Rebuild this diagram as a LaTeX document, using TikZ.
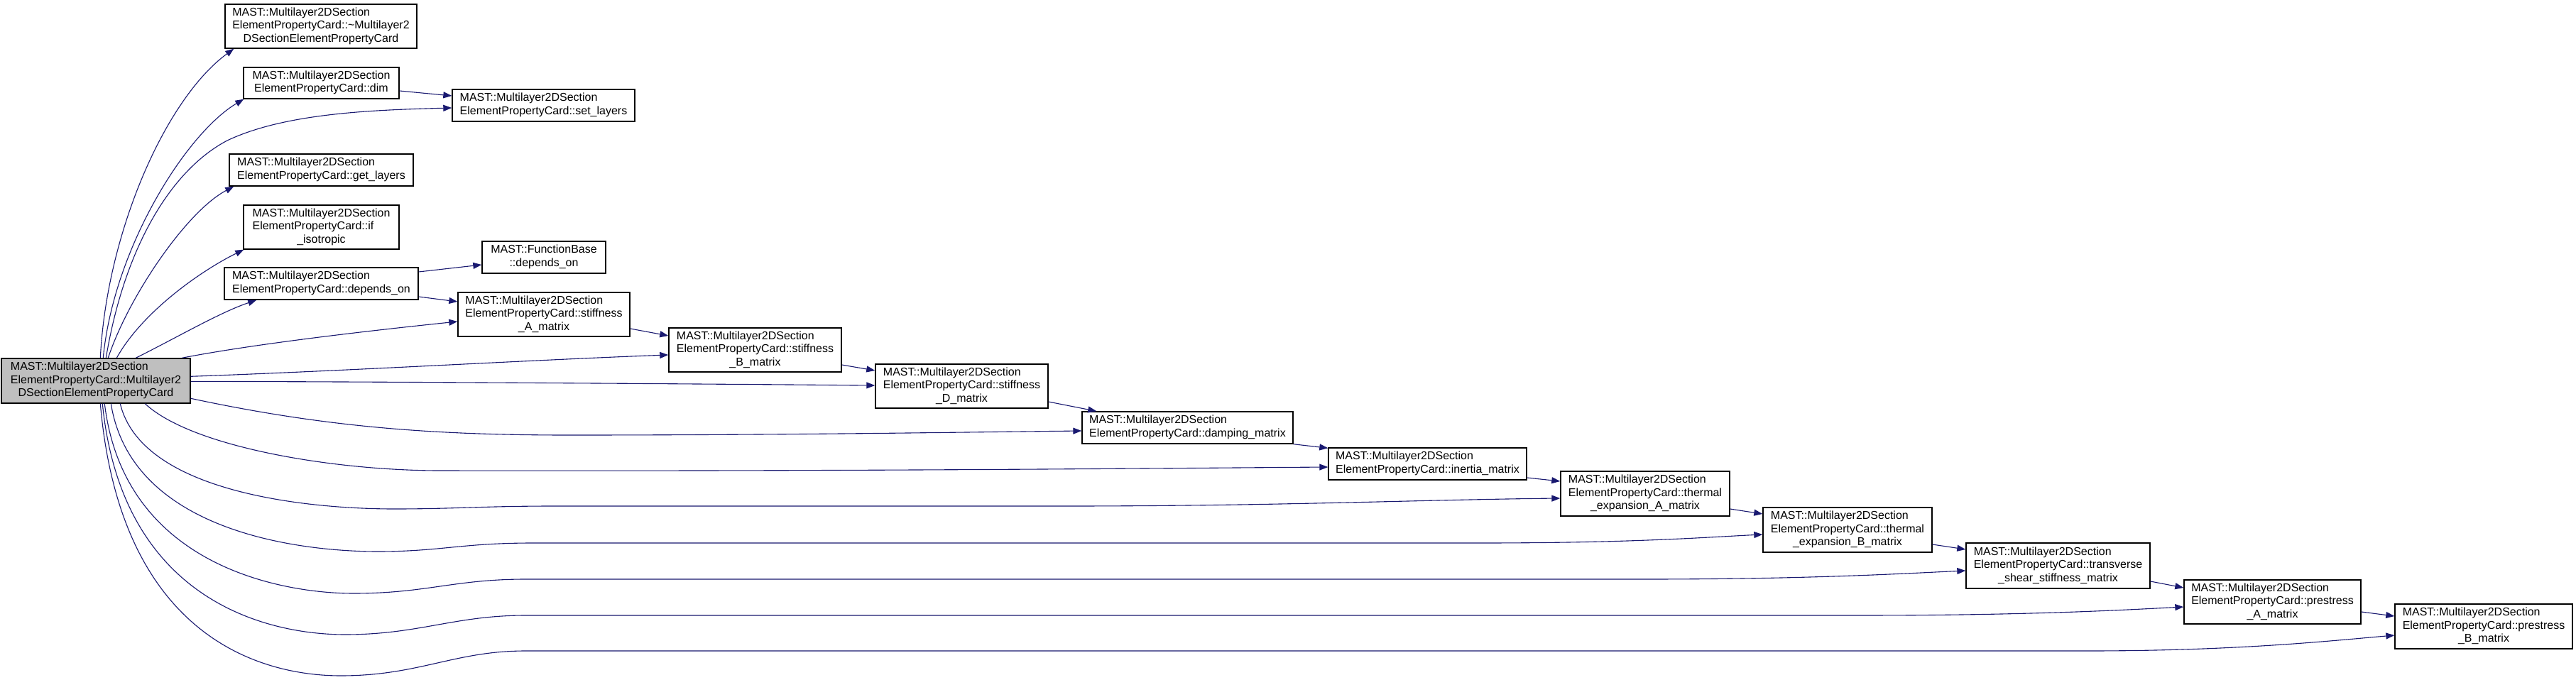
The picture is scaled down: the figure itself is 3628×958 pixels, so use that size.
\documentclass[tikz,border=0pt]{standalone}
\usepackage{fontspec}
\setmainfont{Liberation Sans}
\usetikzlibrary{arrows.meta,calc}
\definecolor{edgeblue}{HTML}{191970}
\definecolor{maingray}{HTML}{BFBFBF}
\newcommand{\twol}[2]{\begin{tabular}{@{}l@{}}#1\\\multicolumn{1}{@{}c@{}}{#2}\end{tabular}}
\newcommand{\threel}[3]{\begin{tabular}{@{}l@{}}#1\\#2\\\multicolumn{1}{@{}c@{}}{#3}\end{tabular}}
\newcommand{\MS}{MAST::Multilayer2DSection}
\newcommand{\EPC}{ElementPropertyCard::}
\tikzset{
  box/.style={draw=black, line width=1.4pt, fill=white, inner sep=0pt, rectangle,
    font=\fontsize{16}{18.5}\selectfont, text=black},
  mainbox/.style={box, fill=maingray},
  edge/.style={draw=edgeblue, line width=1.1pt, -{Triangle[length=12pt,width=9pt]}, fill=none}
}
\begin{document}
\begin{tikzpicture}[x=1pt,y=-1pt]
\path[fill=white, use as bounding box] (0,0) rectangle (3628,958);

% nodes
\node[mainbox, minimum width=266pt, minimum height=63pt] (main) at (135,536.5) {\threel{\MS}{\EPC Multilayer2}{DSectionElementPropertyCard}};
\node[box, minimum width=270pt, minimum height=62pt] (dtor) at (452,37) {\threel{\MS}{\EPC\textasciitilde Multilayer2}{DSectionElementPropertyCard}};
\node[box, minimum width=219pt, minimum height=44pt] (dim) at (452.5,117) {\twol{\MS}{\EPC dim}};
\node[box, minimum width=257pt, minimum height=45pt] (setl) at (765.5,148.5) {\twol{\MS}{\EPC set\_layers}};
\node[box, minimum width=259pt, minimum height=45pt] (getl) at (452.5,239.5) {\twol{\MS}{\EPC get\_layers}};
\node[box, minimum width=219pt, minimum height=62pt] (iso) at (452.5,320) {\threel{\MS}{\EPC if}{\_isotropic}};
\node[box, minimum width=174pt, minimum height=45pt] (fb) at (766,362.5) {\twol{MAST::FunctionBase}{::depends\_on}};
\node[box, minimum width=273pt, minimum height=45pt] (dep) at (452.5,399.5) {\twol{\MS}{\EPC depends\_on}};
\node[box, minimum width=242pt, minimum height=62pt] (stA) at (766,443) {\threel{\MS}{\EPC stiffness}{\_A\_matrix}};
\node[box, minimum width=243pt, minimum height=62pt] (stB) at (1063.5,493) {\threel{\MS}{\EPC stiffness}{\_B\_matrix}};
\node[box, minimum width=243pt, minimum height=62pt] (stD) at (1354.5,544) {\threel{\MS}{\EPC stiffness}{\_D\_matrix}};
\node[box, minimum width=297pt, minimum height=45pt] (damp) at (1672.5,602.5) {\twol{\MS}{\EPC damping\_matrix}};
\node[box, minimum width=279pt, minimum height=45pt] (iner) at (2010.5,653.5) {\twol{\MS}{\EPC inertia\_matrix}};
\node[box, minimum width=238pt, minimum height=63pt] (thA) at (2317,695.5) {\threel{\MS}{\EPC thermal}{\_expansion\_A\_matrix}};
\node[box, minimum width=238pt, minimum height=63pt] (thB) at (2602,746.5) {\threel{\MS}{\EPC thermal}{\_expansion\_B\_matrix}};
\node[box, minimum width=259pt, minimum height=64pt] (trans) at (2898.5,797) {\threel{\MS}{\EPC transverse}{\_shear\_stiffness\_matrix}};
\node[box, minimum width=249pt, minimum height=62pt] (prA) at (3200.5,848) {\threel{\MS}{\EPC prestress}{\_A\_matrix}};
\node[box, minimum width=250pt, minimum height=63pt] (prB) at (3498,882.5) {\threel{\MS}{\EPC prestress}{\_B\_matrix}};

% edges from the main node (upper group)
\draw[edge] ($(main.north west)+(140,0)$) .. controls (150,330) and (232,140) .. ($(dtor.south west)+(13,0)$);
\draw[edge] ($(main.north west)+(144,0)$) .. controls (160,350) and (262,188) .. ($(dim.south west)+(1,0)$);
\draw[edge] ($(main.north west)+(148,0)$) .. controls (175,350) and (240,240) .. (320,198) .. controls (400,160) and (520,155) .. ($(setl.west)+(0,3.5)$);
\draw[edge] ($(main.north west)+(151,0)$) .. controls (180,420) and (262,298) .. ($(getl.south west)+(7,0)$);
\draw[edge] ($(main.north west)+(163,0)$) .. controls (200,440) and (282,382) .. ($(iso.south west)+(1,0)$);
\draw[edge] ($(main.north west)+(190,0)$) .. controls (250,475) and (310,440) .. ($(dep.south west)+(46,0)$);
\draw[edge] ($(main.north west)+(255,0)$) .. controls (350,486) and (500,468) .. ($(stA.west)+(0,10)$);
\draw[edge] ($(main.north east)+(0,26)$) .. controls (500,522) and (750,507) .. ($(stB.west)+(0,7)$);
\draw[edge] ($(main.north east)+(0,33)$) .. controls (600,538) and (1000,541) .. ($(stD.west)+(0,-1)$);

% edges from the main node (lower group)
\draw[edge] ($(main.north east)+(0,57)$) .. controls (450,600) and (600,613) .. (800,613) .. controls (1100,613) and (1350,609) .. ($(damp.west)+(0,4.5)$);
\draw[edge] ($(main.south west)+(203,0)$) .. controls (270,630) and (470,663) .. (620,663) .. controls (1200,664) and (1600,660) .. ($(iner.west)+(0,4.5)$);
\draw[edge] ($(main.south west)+(168,0)$) .. controls (200,696) and (440,717) .. (555,717) .. controls (640,717) and (680,713) .. (780,713) -- (1500,713) .. controls (1800,713) and (2000,704) .. ($(thA.west)+(0,6.5)$);
\draw[edge] ($(main.south west)+(155,0)$) .. controls (185,748) and (420,777) .. (532,777) .. controls (620,777) and (650,765) .. (750,765) -- (2083,765) .. controls (2300,765) and (2400,757) .. ($(thB.west)+(0,6.5)$);
\draw[edge] ($(main.south west)+(146,0)$) .. controls (175,799) and (400,836) .. (498,836) .. controls (600,836) and (640,816) .. (740,816) -- (2315,816) .. controls (2550,816) and (2680,808) .. ($(trans.west)+(0,7)$);
\draw[edge] ($(main.south west)+(143,0)$) .. controls (172,849) and (380,894) .. (486,894) .. controls (590,894) and (640,867) .. (740,867) -- (2615,867) .. controls (2850,867) and (2980,860) .. ($(prA.west)+(0,7)$);
\draw[edge] ($(main.south west)+(140,0)$) .. controls (170,900) and (370,952) .. (480,952) .. controls (590,952) and (640,917) .. (740,917) -- (2940,917) .. controls (3150,917) and (3280,903) .. ($(prB.west)+(0,12.5)$);

% chain edges
\draw[edge] ($(dim.east)+(0,11)$) -- ($(setl.west)+(0,-13.5)$);
\draw[edge] ($(dep.east)+(0,-16.5)$) -- ($(fb.west)+(0,10.5)$);
\draw[edge] ($(dep.east)+(0,18.5)$) -- ($(stA.west)+(0,-18)$);
\draw[edge] ($(stA.east)+(0,20)$) -- ($(stB.west)+(0,-20)$);
\draw[edge] ($(stB.east)+(0,21)$) -- ($(stD.west)+(0,-22)$);
\draw[edge] ($(stD.east)+(0,22)$) -- ($(damp.north west)+(21,0)$);
\draw[edge] (damp.south east) -- ($(iner.north west)+(0,1)$);
\draw[edge] ($(iner.east)+(0,19.5)$) -- ($(thA.west)+(0,-17.5)$);
\draw[edge] ($(thA.east)+(0,21.5)$) -- ($(thB.west)+(0,-22.5)$);
\draw[edge] ($(thB.east)+(0,20.5)$) -- ($(trans.west)+(0,-23)$);
\draw[edge] ($(trans.east)+(0,22)$) -- ($(prA.west)+(0,-20)$);
\draw[edge] ($(prA.east)+(0,14)$) -- ($(prB.west)+(0,-14.5)$);
\end{tikzpicture}
\end{document}
